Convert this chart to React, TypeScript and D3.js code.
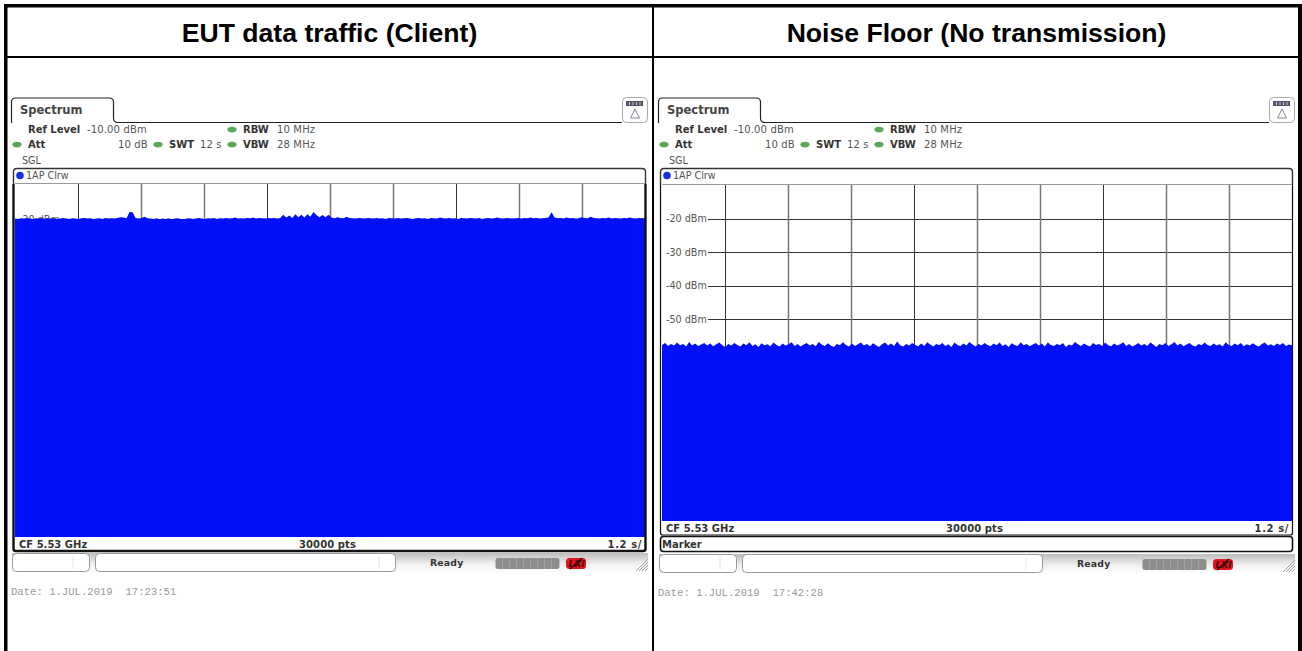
import React from "react";
import * as d3 from "d3";

// Sweep time in seconds across the display, and amplitude grid in dBm
const sweepDomain = [0, 12];
const levelDomain = [-10, -110];
const timeTicks = [1.2, 2.4, 3.6, 4.8, 6, 7.2, 8.4, 9.6, 10.8];
const levelTicks = [-20, -30, -40, -50, -60, -70, -80, -90, -100];

const titles = ["EUT data traffic (Client)", "Noise Floor (No transmission)"];
const dates = ["Date: 1.JUL.2019  17:23:51", "Date: 1.JUL.2019  17:42:28"];

const eutTrace = [
  -19.8, -19.9, -19.7, -19.8, -19.6, -19.8, -19.9, -19.7, -19.8, -19.6, -19.9, -19.7, -19.8, -19.7, -19.9,
  -19.8, -19.6, -19.8, -19.9, -19.7, -19.8, -19.9, -19.7, -19.6, -19.8, -19.7, -19.9, -19.8, -19.7, -19.9,
  -19.6, -19.8, -19.7, -19.8, -19.6, -19.4, -19.5, -19.7, -17.9, -18.0, -19.6, -19.8, -19.6, -19.3, -19.7,
  -19.8, -19.9, -19.7, -20.0, -19.8, -19.9, -19.7, -20.0, -19.8, -19.7, -19.9, -20.0, -19.8, -19.7, -19.9,
  -19.8, -19.6, -19.8, -19.9, -19.7, -19.8, -19.6, -19.9, -19.7, -19.8, -19.6, -19.8, -19.7, -19.5, -19.8,
  -19.7, -19.8, -19.6, -19.7, -19.5, -19.8, -19.6, -19.7, -19.8, -19.6, -19.7, -19.6, -19.8, -19.6, -18.7,
  -19.5, -18.9, -19.6, -18.6, -19.4, -18.7, -19.5, -18.6, -19.3, -17.9, -18.8, -19.4, -18.8, -19.4, -18.7,
  -19.5, -19.7, -19.4, -19.6, -19.7, -19.3, -19.6, -19.7, -19.8, -19.6, -19.7, -19.8, -19.6, -19.7, -19.8,
  -19.6, -19.8, -19.7, -19.9, -19.6, -19.7, -19.8, -19.6, -19.8, -19.7, -19.6, -19.8, -19.9, -19.7, -19.6,
  -19.8, -19.7, -19.9, -19.6, -19.7, -19.8, -19.5, -19.7, -19.8, -19.6, -19.8, -19.7, -19.9, -19.6, -19.7,
  -19.8, -19.6, -19.7, -19.8, -19.6, -19.9, -19.7, -19.6, -19.8, -19.7, -19.5, -19.7, -19.8, -19.6, -19.7,
  -19.8, -19.7, -19.6, -19.8, -19.6, -19.7, -19.5, -19.7, -19.6, -19.8, -19.7, -19.6, -19.5, -18.0, -19.5,
  -19.7, -19.6, -19.8, -19.5, -19.7, -19.6, -19.8, -19.7, -19.4, -19.6, -19.7, -19.3, -19.6, -19.7, -19.8,
  -19.6, -19.7, -19.5, -19.8, -19.6, -19.7, -19.8, -19.6, -19.7, -19.5, -19.7, -19.8, -19.6, -19.7, -19.6,
];

const noiseTrace = [
  -57.6, -57.0, -57.9, -57.3, -57.8, -56.9, -57.7, -57.3, -58.1, -56.7, -57.8, -57.2, -57.9, -57.5, -57.0,
  -57.8, -57.2, -58.0, -57.4, -56.9, -57.7, -58.2, -57.3, -57.8, -57.0, -57.6, -58.1, -57.2, -57.7, -56.8,
  -57.9, -57.4, -58.2, -57.1, -57.7, -57.4, -58.0, -56.9, -57.6, -58.1, -57.2, -57.8, -57.4, -56.8, -57.9,
  -57.3, -58.1, -57.5, -57.0, -57.8, -57.3, -58.0, -56.7, -57.5, -57.9, -57.1, -57.8, -58.2, -57.3, -57.7,
  -56.8, -57.6, -58.1, -57.2, -57.9, -57.4, -56.9, -57.8, -57.3, -58.0, -57.1, -57.7, -58.2, -57.4, -56.9,
  -57.8, -57.2, -57.9, -56.6, -57.7, -58.1, -57.3, -57.8, -57.0, -57.6, -58.0, -57.2, -57.9, -56.8, -57.5,
  -58.1, -57.3, -57.7, -57.0, -57.9, -57.4, -58.2, -56.9, -57.6, -57.9, -57.2, -57.8, -56.7, -57.5, -58.1,
  -57.3, -57.8, -57.0, -57.6, -58.0, -57.2, -57.7, -56.9, -57.9, -57.4, -58.2, -57.1, -57.6, -57.9, -56.8,
  -57.7, -57.3, -58.0, -57.5, -57.0, -57.8, -57.2, -58.1, -56.9, -57.6, -57.9, -57.3, -57.7, -57.0, -58.2,
  -57.5, -57.8, -56.7, -57.4, -57.9, -57.2, -57.7, -58.1, -57.0, -57.6, -57.3, -57.9, -56.9, -57.7, -58.0,
  -57.2, -57.8, -57.4, -56.8, -57.9, -57.3, -58.1, -57.6, -57.0, -57.8, -57.3, -57.9, -56.9, -57.5, -58.2,
  -57.3, -57.7, -57.0, -57.9, -57.4, -56.7, -57.8, -57.2, -58.0, -57.5, -57.0, -57.8, -58.1, -57.3, -57.7,
  -56.9, -57.6, -57.9, -57.2, -57.8, -57.4, -58.1, -56.8, -57.6, -57.9, -57.2, -57.7, -57.0, -58.0, -57.4,
  -57.8, -57.1, -57.7, -58.1, -57.3, -56.9, -57.8, -57.4, -57.9, -57.2, -57.6, -57.0, -57.9, -57.5, -57.7,
];

const SANS = "'DejaVu Sans', sans-serif";
const TEXT = "#555";

type PanelProps = {
  dx: number;
  plotTop: number;
  plotBottom: number;
  trace: number[];
  date: string;
  marker: boolean;
};

function Meta({ x, y, label, value, valueX, lamp }: { x: number; y: number; label: string; value?: string; valueX?: number; lamp?: number }) {
  return (
    <g fontFamily={SANS} fontSize={10}>
      {lamp !== undefined && <ellipse cx={lamp} cy={y - 3.4} rx={4.6} ry={2.8} fill="#5aa85a" />}
      <text x={x} y={y} fontWeight="bold" fill="#333">{label}</text>
      {value && <text x={valueX} y={y} fill={TEXT} letterSpacing={0.15}>{value}</text>}
    </g>
  );
}

function Panel({ dx, plotTop, plotBottom, trace, date, marker }: PanelProps) {
  const plotLeft = 15;
  const plotRight = 645;
  const xT = d3.scaleLinear().domain(sweepDomain).range([plotLeft, plotRight]);
  const yL = d3.scaleLinear().domain(levelDomain).range([plotTop, plotBottom]);
  const xI = d3.scaleLinear().domain([0, trace.length - 1]).range([plotLeft, plotRight]);
  const area = d3
    .area<number>()
    .x((_, i) => xI(i))
    .y0(plotBottom)
    .y1((d) => yL(d))
    .curve(d3.curveLinear);
  const footerBottom = plotBottom + 14;
  const statusY = marker ? 554 : 553;
  const segs = d3.range(8);
  return (
    <g transform={`translate(${dx},0)`}>
      {/* tab */}
      <path
        d={`M11.5,123 V102 Q11.5,98 15.5,98 H109 Q113.5,98 113.5,102 V118 Q113.5,122.5 118,122.5 H622`}
        fill="none"
        stroke="#222"
        strokeWidth={1.2}
      />
      <text x={20} y={114} fontFamily={SANS} fontSize={11.5} fontWeight="bold" fill="#444">Spectrum</text>
      {/* top-right icon */}
      <rect x={622.5} y={97.5} width={25} height={25} rx={4} fill="#fff" stroke="#aaa" />
      <rect x={626} y={101} width={17} height={5} fill="#556" />
      {[629.5, 633, 636.5, 640].map((s) => (
        <line key={s} x1={s} x2={s} y1={102} y2={105} stroke="#ccd" strokeWidth={1} />
      ))}
      <path d="M635,109 L630.5,118 H639.5 Z" fill="#fff" stroke="#778" strokeWidth={0.9} />
      {/* settings */}
      <Meta x={28} y={133} label="Ref Level" value="-10.00 dBm" valueX={87} />
      <Meta x={28} y={148} label="Att" value="10 dB" valueX={118} lamp={17} />
      <Meta x={169} y={148} label="SWT" value="12 s" valueX={200} lamp={158} />
      <Meta x={243} y={133} label="RBW" value="10 MHz" valueX={277} lamp={232} />
      <Meta x={243} y={148} label="VBW" value="28 MHz" valueX={277} lamp={232} />
      <text x={22} y={164} fontFamily={SANS} fontSize={9.6} fill={TEXT}>SGL</text>
      {/* trace label row */}
      <path
        d={`M13.5,${plotTop} V172 Q13.5,168.5 17,168.5 H642 Q645.5,168.5 645.5,172 V${plotTop}`}
        fill="#fff"
        stroke="#333"
        strokeWidth={1.4}
      />
      <circle cx={20} cy={175.5} r={3.8} fill="#1530e0" />
      <text x={26} y={179} fontFamily={SANS} fontSize={9.6} fill={TEXT}>1AP Clrw</text>
      {/* plot */}
      <rect x={plotLeft} y={plotTop} width={plotRight - plotLeft} height={plotBottom - plotTop} fill="#fff" />
      {levelTicks.map((t) => (
        <g key={t}>
          <line x1={plotLeft + 46} x2={plotRight} y1={Math.round(yL(t)) + 0.5} y2={Math.round(yL(t)) + 0.5} stroke="#333" strokeWidth={1} />
          <text x={plotLeft + 4} y={yL(t) + 3.5} fontFamily={SANS} fontSize={9.6} fill={TEXT}>{`${t} dBm`}</text>
        </g>
      ))}
      {timeTicks.map((t, i) => (
        <line
          key={t}
          x1={Math.round(xT(t)) + 0.5}
          x2={Math.round(xT(t)) + 0.5}
          y1={plotTop}
          y2={plotBottom}
          stroke={i % 3 === 0 ? "#333" : "#777"}
          strokeWidth={i % 3 === 0 ? 1 : 1.5}
        />
      ))}
      <path d={area(trace) as string} fill="#0010fa" />
      <line x1={plotLeft} x2={plotRight} y1={plotTop - 0.5} y2={plotTop - 0.5} stroke="#999" strokeWidth={1.2} />
      {/* frame */}
      <path
        d={`M13.5,${plotTop} V${footerBottom - 2} Q13.5,${footerBottom} 16,${footerBottom} H643 Q645.5,${footerBottom} 645.5,${footerBottom - 2} V${plotTop}`}
        fill="none"
        stroke="#111"
        strokeWidth={marker ? 1.2 : 2.4}
      />
      <g fontFamily={SANS} fontSize={10} fontWeight="600" fill="#333">
        <text x={19} y={plotBottom + 10.5}>CF 5.53 GHz</text>
        <text x={327.5} y={plotBottom + 10.5} textAnchor="middle" letterSpacing={0.1}>30000 pts</text>
        <text x={642} y={plotBottom + 10.5} textAnchor="end" letterSpacing={0.6}>1.2 s/</text>
      </g>
      {marker && (
        <g>
          <rect x={13.5} y={536.5} width={632} height={15} rx={3} fill="#fff" stroke="#111" strokeWidth={1.6} />
          <text x={15} y={548} fontFamily={SANS} fontSize={10} fontWeight="600" fill="#333">Marker</text>
        </g>
      )}
      {/* status bar */}
      <defs>
        <linearGradient id={`bar${dx}`} x1="0" x2="0" y1="0" y2="1">
          <stop offset="0" stopColor="#bdbdbd" />
          <stop offset="0.55" stopColor="#f0f0f0" />
          <stop offset="1" stopColor="#ffffff" />
        </linearGradient>
      </defs>
      <rect x={12} y={statusY} width={636} height={20} fill={`url(#bar${dx})`} />
      <rect x={12.5} y={statusY + 0.5} width={77} height={18} rx={4} fill="#fff" stroke="#999" />
      <rect x={95.5} y={statusY + 0.5} width={300} height={18} rx={4} fill="#fff" stroke="#999" />
      <line x1={73} x2={73} y1={statusY + 3} y2={statusY + 16} stroke="#e4e4e4" />
      <line x1={379} x2={379} y1={statusY + 3} y2={statusY + 16} stroke="#e4e4e4" />
      <text x={430} y={statusY + 13} fontFamily={SANS} fontSize={9.3} fontWeight="bold" letterSpacing={0.2} fill="#333">Ready</text>
      <rect x={495.5} y={statusY + 5} width={64} height={11} rx={2.5} fill="#8e8e8e" />
      <path
        d={segs.map((s) => `M${502.6 + s * 7},${statusY + 5} v11`).join(" ")}
        stroke="#aaa"
        strokeWidth={0.8}
      />
      <rect x={566} y={statusY + 5} width={20} height={11} rx={3.5} fill="#e0141c" />
      <text x={568.5} y={statusY + 14} fontFamily={SANS} fontSize={9} fontWeight="bold" fontStyle="italic" fill="#4a0a0a">LXI</text>
      <line x1={570} x2={582} y1={statusY + 16} y2={statusY + 5} stroke="#2a0505" strokeWidth={1.2} />
      <path
        d={`M636,${statusY + 18} L648,${statusY + 6} M639,${statusY + 18} L648,${statusY + 9} M642,${statusY + 18} L648,${statusY + 12} M645,${statusY + 18} L648,${statusY + 15}`}
        stroke="#999"
        strokeWidth={0.9}
      />
      {/* date */}
      <text x={11} y={marker ? 596 : 594.5} fontFamily="'Liberation Mono', monospace" fontSize={10.6} fill="#999" xmlSpace="preserve">{date}</text>
    </g>
  );
}

export default function App() {
  return (
    <svg
      width={1302}
      height={651}
      viewBox="0 0 1302 651"
      style={{ position: "absolute", left: 0, top: 0, display: "block", background: "#fff" }}
    >
      <Panel dx={0} plotTop={184} plotBottom={537} trace={eutTrace} date={dates[0]} marker={false} />
      <Panel dx={647} plotTop={185} plotBottom={521} trace={noiseTrace} date={dates[1]} marker={true} />
      {/* table */}
      <g fill="#000">
        <rect x={4} y={4} width={1298} height={3.5} />
        <rect x={4} y={4} width={3.5} height={647} />
        <rect x={652} y={7} width={2} height={644} />
        <rect x={1298} y={4} width={4} height={647} />
        <rect x={7} y={56} width={1291} height={2} />
      </g>
      <g fontFamily="'Liberation Sans', Arial, sans-serif" fontSize={26.6} fontWeight="bold" fill="#000" textAnchor="middle">
        <text x={329.5} y={42}>{titles[0]}</text>
        <text x={976.5} y={42}>{titles[1]}</text>
      </g>
    </svg>
  );
}
